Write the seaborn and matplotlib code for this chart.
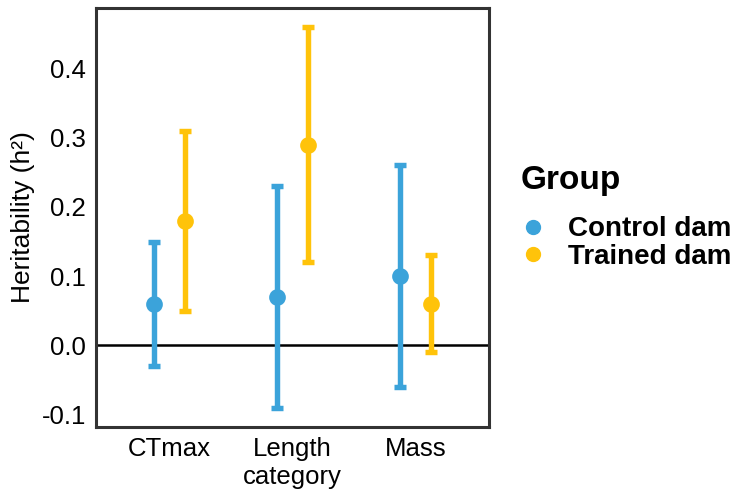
import matplotlib
matplotlib.use("Agg")
import matplotlib.pyplot as plt
from matplotlib.lines import Line2D
import pandas as pd
import seaborn as sns

# ─── Data ────────────────────────────────────────────────────────────────────
traits = ["CTmax", "Length\ncategory", "Mass"]
groups = ["Control dam", "Trained dam"]
control_est = [0.06, 0.07, 0.10]
control_lo = [-0.03, -0.09, -0.06]
control_hi = [0.15, 0.23, 0.26]
trained_est = [0.18, 0.29, 0.06]
trained_lo = [0.05, 0.12, -0.01]
trained_hi = [0.31, 0.46, 0.13]

palette = {"Control dam": "#3BA3DA", "Trained dam": "#FFC30A"}

# long table: lo / est / hi rows -> median gives estimate, 100% interval gives CI
rows = []
for grp, est, lo, hi in [("Control dam", control_est, control_lo, control_hi),
                         ("Trained dam", trained_est, trained_lo, trained_hi)]:
    for t, e, l, h in zip(traits, est, lo, hi):
        for v in (l, e, h):
            rows.append({"trait": t, "group": grp, "h2": v})
df = pd.DataFrame(rows)

sns.set_style("white")
plt.rcParams["font.family"] = ["Liberation Sans", "DejaVu Sans"]
plt.rcParams["text.color"] = "black"

fig = plt.figure(figsize=(7.38, 4.94), dpi=100)
ax = fig.add_axes([0.130, 0.136, 0.533, 0.848])

ax.axhline(0, color="black", linewidth=1.8, zorder=1)
sns.pointplot(data=df, x="trait", y="h2", hue="group", order=traits,
              hue_order=groups, palette=palette, estimator="median",
              errorbar=("pi", 100), dodge=0.25, linestyle="none",
              markers="o", markersize=10, capsize=0.1,
              err_kws={"linewidth": 3.9, "solid_capstyle": "butt"},
              legend=False, ax=ax)

ax.set_xlim(-0.6, 2.6)
ax.set_ylim(-0.1175, 0.4875)
ax.set_yticks([-0.1, 0.0, 0.1, 0.2, 0.3, 0.4])
ax.set_yticklabels(["-0.1", "0.0", "0.1", "0.2", "0.3", "0.4"])
ax.set_xlabel("")
ax.set_ylabel("Heritability (h²)", fontsize=19, labelpad=5, color="black")
ax.tick_params(axis="both", labelsize=18.5, colors="#333333", length=4,
               width=2, labelcolor="black", pad=3)
for lab in ax.get_xticklabels():
    lab.set_linespacing(1.25)
for s in ax.spines.values():
    s.set_color("#333333")
    s.set_linewidth(2.2)

fig.text(0.705, 1 - 180 / 494, "Group", fontsize=24, fontweight="bold",
         va="center", ha="left", color="black")
handles = [Line2D([], [], linestyle="none", marker="o", markersize=10,
                  color=palette[g]) for g in groups]
fig.legend(handles, groups, loc="center left",
           bbox_to_anchor=(0.681, 1 - 243 / 494), frameon=False,
           prop={"size": 20, "weight": "bold"}, labelcolor="black",
           handletextpad=0.56, labelspacing=0.05, borderaxespad=0,
           handlelength=1.4)

fig.savefig("out.png", dpi=100)
